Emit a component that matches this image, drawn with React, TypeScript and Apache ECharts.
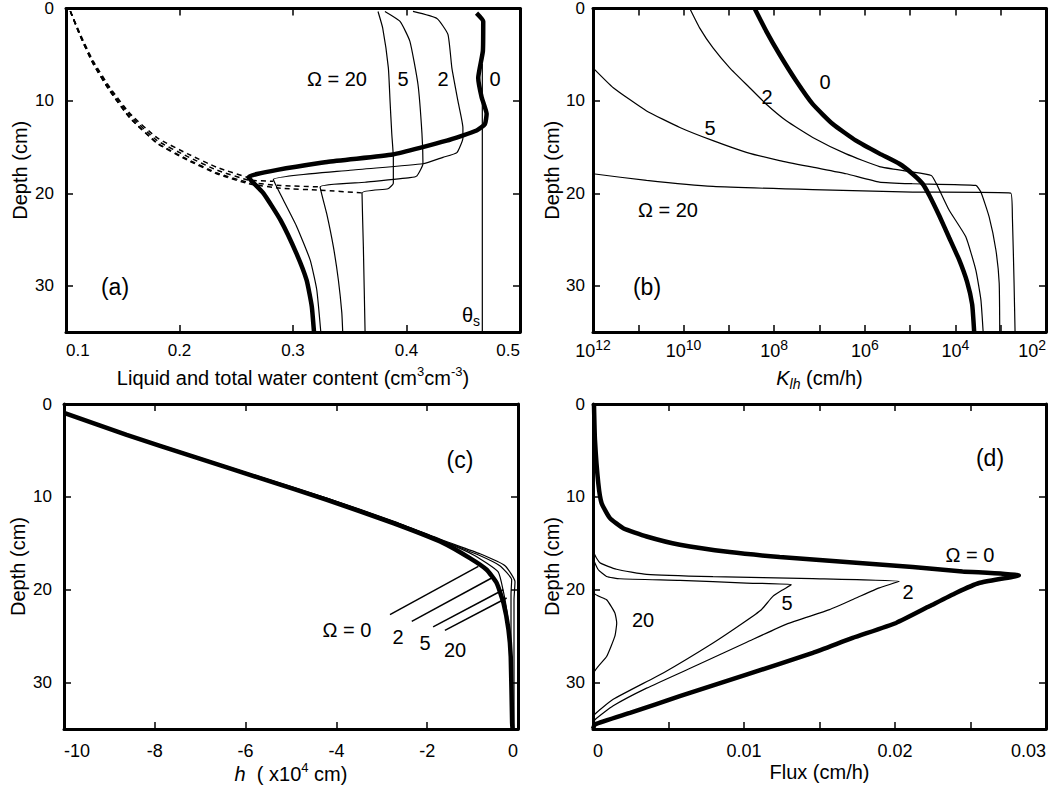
import React, { useEffect, useRef } from "react";
import * as echarts from "echarts";

type P = [number, number][];

// ---------- (a) water content (cm3/cm3) vs depth (cm) ----------
const A_TOTAL_0: P = [[0.4617,0.5],[0.4676,1.4],[0.4673,4.6],[0.4632,7.5],[0.4662,9.6],[0.4706,11.4],[0.4691,12.5],[0.4618,13.2],[0.4354,14.3],[0.388,15.8],[0.33,16.6],[0.2607,18.25],[0.274,20.0],[0.289,22.9],[0.303,26.5],[0.312,29.4],[0.3165,32.2],[0.3185,35]];
const A_TOTAL_2: P = [[0.4057,0.32],[0.4268,1.08],[0.4365,2.8],[0.44,6.45],[0.4453,10.0],[0.4497,12.9],[0.4497,14.0],[0.4444,15.6],[0.4321,16.1],[0.4145,16.8],[0.3502,17.5],[0.2827,18.5],[0.2916,20.75],[0.3033,23.6],[0.3151,27.2],[0.3209,30.4],[0.3245,35]];
const A_TOTAL_5: P = [[0.381,0.32],[0.3943,1.4],[0.403,3.55],[0.4101,8.2],[0.4136,13.5],[0.4145,16.8],[0.4092,18.1],[0.403,18.3],[0.3634,18.8],[0.3239,19.3],[0.3297,22.2],[0.3356,25.8],[0.34,29.4],[0.343,32.9],[0.3438,35]];
const A_TOTAL_20: P = [[0.3749,0.32],[0.379,2.1],[0.384,6.4],[0.3855,10],[0.387,13.5],[0.3884,16.1],[0.3884,18.9],[0.3837,19.5],[0.3608,19.95],[0.362,25.8],[0.3635,35]];
const A_LIQ_0: P = [[0.1038,0.3],[0.1126,2.8],[0.124,5.7],[0.139,8.6],[0.1566,11.4],[0.1804,14.0],[0.2068,15.7],[0.2332,17.2],[0.2605,18.3]];
const A_LIQ_2: P = [[0.1038,0.3],[0.1126,2.9],[0.124,5.85],[0.139,8.8],[0.1566,11.6],[0.1804,14.3],[0.2068,16.0],[0.2332,17.5],[0.2605,18.55],[0.2827,18.7]];
const A_LIQ_5: P = [[0.1038,0.3],[0.1126,3.0],[0.124,6.0],[0.139,9.0],[0.1566,11.85],[0.1804,14.55],[0.2068,16.3],[0.2332,17.8],[0.2605,18.8],[0.289,19.15],[0.3239,19.3]];
const A_LIQ_20: P = [[0.1038,0.3],[0.1126,3.0],[0.124,6.0],[0.139,9.0],[0.1566,11.9],[0.1804,14.6],[0.2068,16.4],[0.2332,17.9],[0.2605,18.95],[0.289,19.45],[0.3239,19.65],[0.3608,19.95]];
const A_THETA_S: P = [[0.4668,6],[0.4668,35]];

// ---------- (b) K_lh (cm/h) vs depth ----------
const B_K_0: P = [[2.7e8,0],[1.49e8,2.47],[7.6e7,4.98],[3.26e7,7.85],[1.41e7,10.35],[5.1e6,12.5],[1.56e6,14.3],[4.74e5,15.7],[1.73e5,16.8],[8.8e4,17.9],[5.3e4,18.96],[3.78e4,20.2],[2.28e4,22.4],[1.37e4,24.8],[8.24e3,27.2],[5.5e3,29.6],[4.27e3,32.0],[3.85e3,35]];
const B_K_2: P = [[7.3e9,0],[4.4e9,2.12],[2.24e9,4.27],[9.6e8,6.42],[3.48e8,8.57],[1.49e8,10.36],[5.4e7,12.15],[1.41e7,13.95],[2.58e6,15.73],[4.74e5,17.1],[1.04e5,17.63],[3.41e4,18.06],[2.65e4,18.92],[1.37e4,21.83],[5.9e3,24.7],[3.54e3,28.3],[2.74e3,31.5],[2.44e3,35]];
const B_K_5: P = [[1e12,6.42],[3.57e11,8.57],[6.56e10,11.08],[1.21e10,12.87],[2.24e9,14.3],[4.12e8,15.56],[7.6e7,16.45],[1.41e7,17.17],[2.58e6,17.88],[4.76e5,18.78],[8.8e4,18.96],[3.54e3,19.14],[2.74e3,19.86],[1.8e3,22.55],[1.28e3,26.1],[1.08e3,29.7],[1.05e3,35]];
const B_K_20: P = [[1e12,17.88],[6.56e10,18.6],[2.24e9,19.25],[1.41e7,19.6],[8.8e4,19.86],[600,19.97],[552,22.55],[507,29.7],[482,35]];

// ---------- (c) h (x10^4 cm) vs depth ----------
const C_H_0: P = [[-10,0.95],[-8.62,3.33],[-7.15,5.66],[-5.68,7.99],[-4.21,10.32],[-2.75,12.83],[-1.64,14.98],[-1.06,16.6],[-0.69,17.85],[-0.47,19.28],[-0.32,21.43],[-0.21,24.3],[-0.16,27.2],[-0.13,34.3],[-0.12,35]];
const C_H_2: P = [[-10,0.95],[-8.62,3.3],[-7.15,5.6],[-5.68,7.92],[-4.21,10.22],[-2.75,12.7],[-1.64,14.8],[-0.947,16.34],[-0.44,18.06],[-0.33,20.0],[-0.22,23.2],[-0.154,27.5],[-0.132,35]];
const C_H_5: P = [[-10,0.95],[-8.62,3.28],[-7.15,5.57],[-5.68,7.88],[-4.21,10.17],[-2.75,12.65],[-1.64,14.75],[-0.88,16.24],[-0.4,17.42],[-0.139,18.92],[-0.154,20.5],[-0.154,25.4],[-0.11,35]];
const C_H_20: P = [[-10,0.95],[-8.62,3.26],[-7.15,5.55],[-5.68,7.85],[-4.21,10.12],[-2.75,12.6],[-1.64,14.7],[-0.837,16.13],[-0.286,17.42],[-0.066,19.14],[-0.088,21.1],[-0.088,35]];
const C_LEADER_0: P = [[-2.82,22.69],[-0.874,17.49]];
const C_LEADER_2: P = [[-2.34,23.41],[-0.58,18.74]];
const C_LEADER_5: P = [[-1.87,24.01],[-0.324,20.0]];
const C_LEADER_20: P = [[-1.61,24.38],[-0.25,20.89]];

// ---------- (d) flux (cm/h) vs depth ----------
const D_FLUX_0: P = [[0.000066,0.1],[0.00013,3.87],[0.00035,8.53],[0.00057,10.68],[0.00112,12.29],[0.002,13.37],[0.00355,14.27],[0.00575,15.16],[0.00905,15.95],[0.01236,16.48],[0.01676,17.02],[0.02117,17.56],[0.02447,18.03],[0.0282,18.45],[0.02557,19.28],[0.02403,20.35],[0.02227,21.79],[0.02007,23.58],[0.0172,25.19],[0.01456,26.8],[0.01016,29.14],[0.00575,31.47],[0.00245,33.26],[0.00013,34.5],[0,35]];
const D_FLUX_2: P = [[0.000066,0],[0.000066,16.0],[0.00046,17.1],[0.00156,17.8],[0.00355,18.35],[0.00795,18.6],[0.01456,18.8],[0.02029,19.1],[0.01896,19.8],[0.01742,20.9],[0.01566,22.15],[0.01282,23.7],[0.01018,25.66],[0.00687,28.14],[0.00355,30.6],[0.00134,32.5],[0.00013,34.0],[0,34.5]];
const D_FLUX_5: P = [[0.000066,0],[0.000066,16.8],[0.00035,17.85],[0.0009,18.57],[0.00178,18.82],[0.00575,19.0],[0.01016,19.28],[0.01313,19.46],[0.01258,20.0],[0.01191,20.72],[0.01115,22.15],[0.00993,23.58],[0.00795,25.73],[0.00465,28.96],[0.00134,31.8],[0.00013,33.4],[0,34.2]];
const D_FLUX_20: P = [[0.000066,0],[0.000066,20.35],[0.0009,21.08],[0.00145,22.5],[0.00157,23.58],[0.00145,25.0],[0.0009,27.2],[0.000066,28.96],[0.000066,35]];

const FONT = "'Liberation Sans', Arial, Helvetica, sans-serif";
const NARROW = "'Liberation Sans Narrow', 'Arial Narrow', 'Liberation Sans', sans-serif";

const GRIDS = [
  { left: 66, top: 8, width: 454, height: 324 },
  { left: 593, top: 8, width: 453, height: 324 },
  { left: 64, top: 404, width: 454, height: 325 },
  { left: 593, top: 404, width: 453, height: 325 },
];

const frameLine = { show: true, onZero: false, lineStyle: { color: "#000", width: 3 } };
const tickIn = { show: true, inside: true, length: 7, lineStyle: { color: "#000", width: 1.5 } };
const RICH = {
  n: { fontSize: 20, fontFamily: FONT, color: "#000", lineHeight: 26 },
  i: { fontSize: 20, fontFamily: FONT, color: "#000", fontStyle: "italic", lineHeight: 26 },
  sup: { fontSize: 13, fontFamily: FONT, color: "#000", lineHeight: 14, verticalAlign: "top" },
  sub: { fontSize: 14, fontFamily: FONT, color: "#000", fontStyle: "italic", lineHeight: 14, verticalAlign: "bottom" },
  nn: { fontSize: 20, fontFamily: NARROW, color: "#000", lineHeight: 26 },
  ni: { fontSize: 20, fontFamily: NARROW, color: "#000", fontStyle: "italic", lineHeight: 26 },
  nsup: { fontSize: 13, fontFamily: NARROW, color: "#000", lineHeight: 14, verticalAlign: "top" },
  b: { fontSize: 18, fontFamily: FONT, color: "#000", lineHeight: 26 },
  e: { fontSize: 14, fontFamily: FONT, color: "#000", lineHeight: 13, verticalAlign: "top" },
};

function xAxes(gi: number, base: any, label: any, name: string, nameGap: number) {
  return [
    {
      ...base, gridIndex: gi, position: "bottom",
      axisLine: frameLine, axisTick: tickIn, splitLine: { show: false },
      axisLabel: { color: "#000", fontSize: 17, fontFamily: FONT, ...label },
      name, nameLocation: "middle", nameGap,
      nameTextStyle: { rich: RICH },
    },
    {
      ...base, gridIndex: gi, position: "top",
      axisLine: frameLine, axisTick: tickIn, splitLine: { show: false },
      axisLabel: { show: false },
    },
  ];
}

function yAxes(gi: number, margin: number, nameGap: number) {
  const base = { type: "value", min: 0, max: 35, interval: 10, inverse: true };
  return [
    {
      ...base, gridIndex: gi, position: "left",
      axisLine: frameLine, axisTick: tickIn, splitLine: { show: false },
      axisLabel: { color: "#000", fontSize: 17, fontFamily: FONT, margin, showMaxLabel: false },
      name: "Depth (cm)", nameLocation: "middle", nameGap,
      nameTextStyle: { color: "#000", fontSize: 20, fontFamily: FONT },
    },
    {
      ...base, gridIndex: gi, position: "right",
      axisLine: frameLine, axisTick: tickIn, splitLine: { show: false },
      axisLabel: { show: false },
    },
  ];
}

function line(data: P, panel: number, width: number, dashed = false, smooth: number | boolean = 0.15) {
  return {
    type: "line", data, xAxisIndex: panel * 2, yAxisIndex: panel * 2,
    symbol: "none", smooth, silent: true,
    lineStyle: { color: "#000", width, type: dashed ? [5, 4] : "solid" },
    z: width > 3 ? 3 : 2,
  };
}

function txt(x: number, y: number, text: string, size = 20, rich?: any) {
  return {
    type: "text", x, y, silent: true,
    style: { text, fontSize: size, fontFamily: FONT, fill: "#000", align: "center", verticalAlign: "middle", rich },
  };
}

const THIN = 1.2;
const THICK = 4.5;

export default function App() {
  const ref = useRef<HTMLDivElement>(null);
  useEffect(() => {
    if (!ref.current) return;
    const chart = echarts.init(ref.current, undefined, { renderer: "svg" });
    const option: any = {
      animation: false,
      backgroundColor: "#fff",
      grid: GRIDS.map((g) => ({ ...g })),
      xAxis: [
        ...xAxes(0, { type: "value", min: 0.1, max: 0.5, interval: 0.1 },
          { margin: 10, formatter: (v: number) => v.toFixed(1), alignMinLabel: "left", alignMaxLabel: "right" },
          "{n|Liquid and total water content (cm}{sup|3}{n|cm}{sup|-3}{n|)}", 33),
        ...xAxes(1, { type: "log", logBase: 10, min: 1e2, max: 1e12, inverse: true, interval: 1 },
          {
            margin: 6, rich: RICH, alignMinLabel: "right",
            formatter: (v: number) => {
              const e = Math.round(Math.log10(v));
              return e % 2 === 0 ? `{b|10}{e|${e}}` : "";
            },
          },
          "{i|K}{sub|lh}{n| (cm/h)}", 33),
        ...xAxes(2, { type: "value", min: -10, max: 0, interval: 2 },
          { margin: 13, fontFamily: NARROW, fontSize: 18, alignMinLabel: "left", alignMaxLabel: "right" },
          "{ni|h}{nn|  ( x10}{nsup|4}{nn| cm)}", 30),
        ...xAxes(3, { type: "value", min: 0, max: 0.03, interval: 0.005 },
          {
            margin: 13, fontFamily: NARROW, fontSize: 18, alignMinLabel: "left", alignMaxLabel: "right",
            formatter: (v: number) => {
              const k = Math.round(v * 1000);
              if (k % 10 !== 0) return "";
              return k === 0 ? "0" : v.toFixed(2);
            },
          },
          "{nn|Flux (cm/h)}", 30),
      ],
      yAxis: [
        ...yAxes(0, 12, 36),
        ...yAxes(1, 8, 30),
        ...yAxes(2, 12, 36),
        ...yAxes(3, 8, 30),
      ],
      series: [
        // (a)
        line(A_LIQ_0, 0, 1.5, true),
        line(A_LIQ_2, 0, 1.5, true),
        line(A_LIQ_5, 0, 1.5, true),
        line(A_LIQ_20, 0, 1.5, true),
        line(A_TOTAL_20, 0, THIN),
        line(A_TOTAL_5, 0, THIN),
        line(A_TOTAL_2, 0, THIN),
        line(A_THETA_S, 0, 1.2, false, false),
        line(A_TOTAL_0, 0, THICK),
        // (b)
        line(B_K_20, 1, THIN),
        line(B_K_5, 1, THIN),
        line(B_K_2, 1, THIN),
        line(B_K_0, 1, THICK),
        // (c)
        line(C_H_20, 2, THIN),
        line(C_H_5, 2, THIN),
        line(C_H_2, 2, THIN),
        line(C_H_0, 2, THICK),
        line(C_LEADER_0, 2, 1.5, false, false),
        line(C_LEADER_2, 2, 1.5, false, false),
        line(C_LEADER_5, 2, 1.5, false, false),
        line(C_LEADER_20, 2, 1.5, false, false),
        // (d)
        line(D_FLUX_20, 3, THIN),
        line(D_FLUX_5, 3, THIN),
        line(D_FLUX_2, 3, THIN),
        line(D_FLUX_0, 3, THICK),
      ],
      graphic: [
        // (a)
        txt(337, 79, "Ω = 20"), txt(403, 79, "5"), txt(443, 79, "2"), txt(495, 79, "0"),
        txt(115, 287, "(a)", 23),
        txt(471, 315, "{t|θ}{s|s}", 20, {
          t: { fontSize: 20, fontFamily: FONT, fill: "#000", lineHeight: 26 },
          s: { fontSize: 14, fontFamily: FONT, fill: "#000", lineHeight: 14, verticalAlign: "bottom" },
        }),
        // (b)
        txt(825, 82, "0"), txt(767, 97, "2"), txt(710, 128, "5"), txt(668, 210, "Ω = 20"),
        txt(647, 287, "(b)", 23),
        // (c)
        txt(460, 460, "(c)", 23),
        txt(347, 630, "Ω = 0"), txt(398, 637, "2"), txt(425, 643, "5"), txt(455, 650, "20"),
        // (d)
        txt(990, 458, "(d)", 23),
        txt(970, 555, "Ω = 0"), txt(908, 592, "2"), txt(787, 603, "5"), txt(643, 620, "20"),
      ],
    };
    chart.setOption(option);
    return () => chart.dispose();
  }, []);
  return (
    <div
      ref={ref}
      style={{ position: "absolute", left: 0, top: 0, width: 1059, height: 789, background: "#fff" }}
    />
  );
}
